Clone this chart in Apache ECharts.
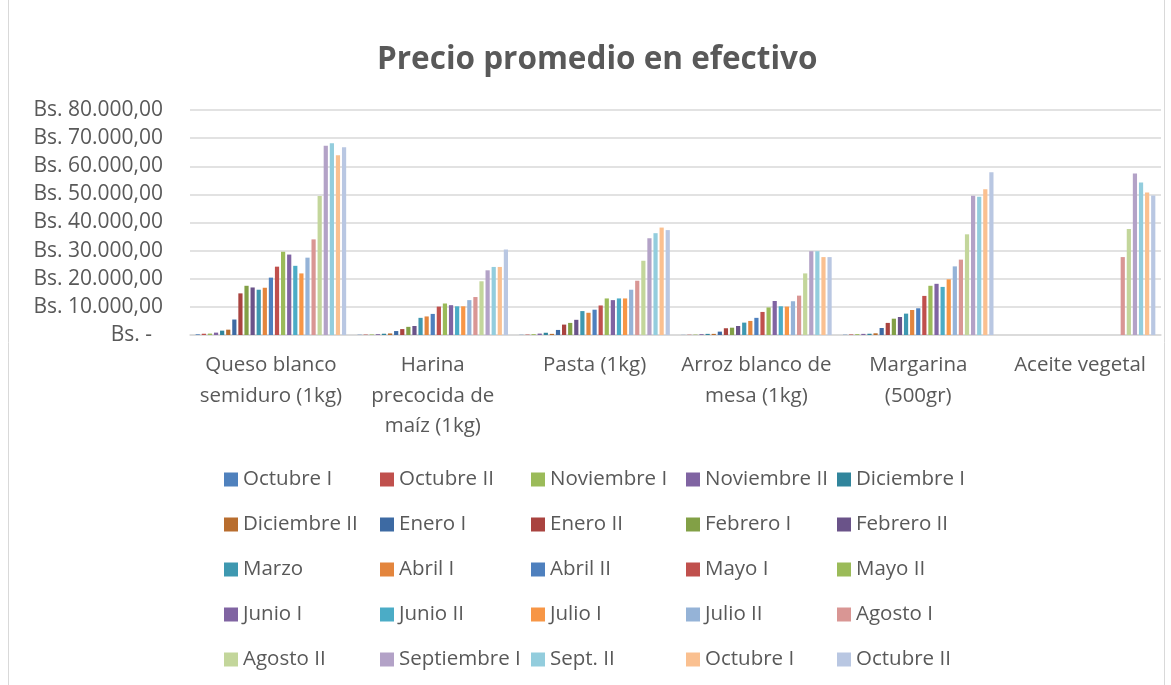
<!DOCTYPE html>
<html>
<head>
<meta charset="utf-8">
<script src="https://cdn.jsdelivr.net/npm/echarts@6/dist/echarts.min.js"></script>
<style>html,body{margin:0;padding:0;background:#fff;}#chart{width:1171px;height:685px;}</style>
</head>
<body>
<div id="chart"></div>
<script>
// Categories (tick labels, with the line breaks shown in the picture)
const categories = [
  "Queso blanco\nsemiduro (1kg)",
  "Harina\nprecocida de\nmaíz (1kg)",
  "Pasta (1kg)",
  "Arroz blanco de\nmesa (1kg)",
  "Margarina\n(500gr)",
  "Aceite vegetal"
];
// Series (periods) in order
const periods = ["Octubre I","Octubre II","Noviembre I","Noviembre II","Diciembre I","Diciembre II",
  "Enero I","Enero II","Febrero I","Febrero II","Marzo","Abril I","Abril II","Mayo I","Mayo II",
  "Junio I","Junio II","Julio I","Julio II","Agosto I","Agosto II","Septiembre I","Sept. II","Octubre I","Octubre II"];
// Values per product, one per period
const queso     = [250,450,500,850,1550,1900,5500,14800,17500,16900,16100,16800,20400,24300,29600,28600,24600,21900,27500,34000,49400,67300,68200,63900,66800];
const harina    = [100,150,200,300,450,550,1400,2100,2900,3200,6100,6600,7500,10100,11200,10600,10200,10200,12400,13500,19100,23000,24200,24200,30400];
const pasta     = [80,150,300,500,800,400,1800,3700,4300,5400,8500,7900,9000,10500,13000,12400,13000,13000,16100,19300,26400,34400,36200,38200,37300];
const arroz     = [50,100,150,300,400,400,1200,2400,2600,3200,4400,5000,6100,8200,9800,12100,10200,10100,12000,14000,21900,29800,29800,27700,27700];
const margarina = [100,200,300,400,450,600,2500,4300,5800,6400,7600,8900,9500,13900,17500,18200,17100,19800,24400,26800,35800,49500,49200,51800,57900];
const aceite    = [null,null,null,null,null,null,null,null,null,null,null,null,null,null,null,null,null,null,null,27700,37700,57400,54200,50700,49600];
const yTicks = [0,10000,20000,30000,40000,50000,60000,70000,80000];

const colors = ["#4F81BD","#C0504D","#9BBB59","#8064A2","#31859C","#B86D2E",
  "#3D6AA3","#A9433F","#82A046","#6A5389","#3E98B0","#E3853D","#4E80BE","#C0504D","#9BBB59",
  "#8064A2","#4BACC6","#F79646","#95B3D7","#D99694","#C3D69B","#B3A2C7","#93CDDD","#FAC090","#B9C7E2"];

const products = [queso, harina, pasta, arroz, margarina, aceite];
// unique names (ECharts merges duplicate legend names)
const seen = {};
const names = periods.map(p => { seen[p] = (seen[p]||0) + 1; return p + " ".repeat(seen[p]-1); });

const series = names.map((n, i) => ({
  name: n, type: 'bar',
  data: products.map(arr => arr[i]),
  itemStyle: { color: colors[i] },
  barGap: '45%', barCategoryGap: '7%',
  emphasis: { disabled: true }
}));

const FONT = "'Open Sans', sans-serif";
const TXT = "#595959";
const legendLefts = [224, 380, 531, 686, 837];
const legends = legendLefts.map((left, c) => ({
  orient: 'vertical', left: left, top: 469, padding: 0,
  itemWidth: 14, itemHeight: 14, itemGap: 24,
  icon: 'rect', selectedMode: false,
  textStyle: { fontFamily: FONT, fontSize: 20.5, color: TXT, lineHeight: 21 },
  data: [0,1,2,3,4].map(r => names[c + 5*r])
}));

function fmt(v) {
  if (v === 0) return "Bs. -  ";
  const s = String(v).replace(/\B(?=(\d{3})+(?!\d))/g, ".");
  return "Bs. " + s + ",00";
}

const chart = echarts.init(document.getElementById('chart'));
chart.setOption({
  animation: false,
  backgroundColor: '#fff',
  color: colors,
  title: {
    text: "Precio promedio en efectivo", left: 372, top: 39,
    textStyle: { fontFamily: FONT, fontSize: 31.5, fontWeight: 'bold', color: TXT }
  },
  legend: legends,
  grid: { left: 190, right: 10, top: 110, height: 225, containLabel: false },
  xAxis: {
    type: 'category', data: categories,
    axisTick: { show: false },
    axisLine: { lineStyle: { color: '#D9D9D9', width: 1.5 } },
    axisLabel: { fontFamily: FONT, fontSize: 20.5, color: TXT, lineHeight: 30.5, margin: 15, interval: 0 }
  },
  yAxis: {
    type: 'value', min: yTicks[0], max: yTicks[yTicks.length-1], interval: yTicks[1]-yTicks[0],
    axisLine: { show: false }, axisTick: { show: false },
    splitLine: { lineStyle: { color: '#D9D9D9', width: 1.5 } },
    axisLabel: { fontFamily: FONT, fontSize: 21, color: TXT, margin: 27, formatter: fmt }
  },
  graphic: [{
    type: 'rect', shape: { x: 8.5, y: -2, width: 1156, height: 690 },
    style: { fill: 'none', stroke: '#D9D9D9', lineWidth: 1 }, silent: true
  }],
  series: series
});
</script>
</body>
</html>
